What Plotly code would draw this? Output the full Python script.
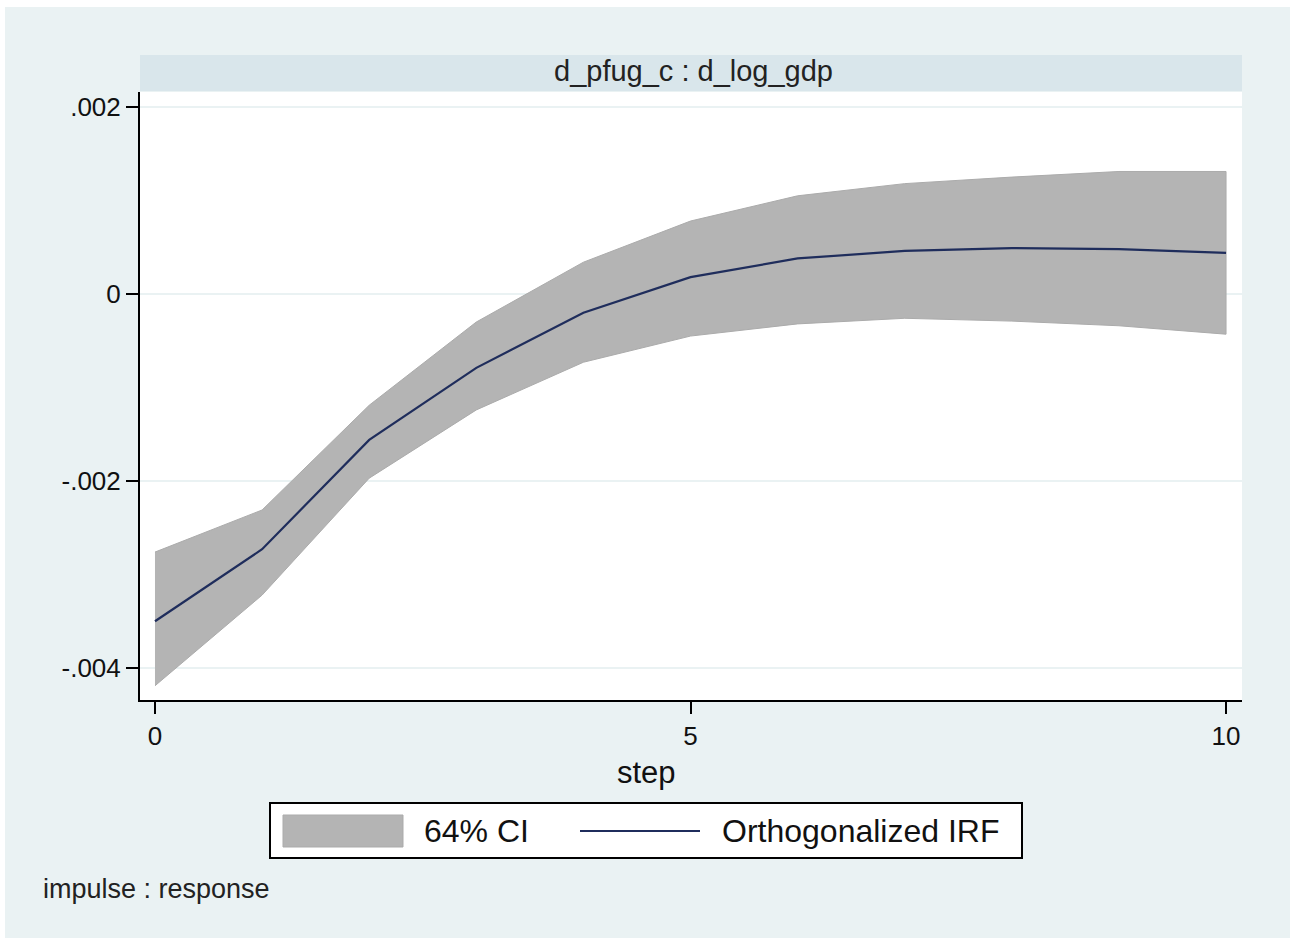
import plotly.graph_objects as go

# Impulse-response of d_log_gdp to a d_pfug_c shock, with 64% confidence band
steps = [0, 1, 2, 3, 4, 5, 6, 7, 8, 9, 10]
oirf = [-0.00350, -0.00273, -0.00156, -0.00079, -0.00020, 0.00018,
        0.00038, 0.00046, 0.00049, 0.00048, 0.00044]
ci_upper = [-0.00276, -0.00231, -0.00119, -0.00030, 0.00034, 0.00078,
            0.00105, 0.00118, 0.00125, 0.00131, 0.00131]
ci_lower = [-0.00419, -0.00322, -0.00197, -0.00124, -0.00073, -0.00045,
            -0.00032, -0.00026, -0.00029, -0.00034, -0.00043]

y_ticks = [-0.004, -0.002, 0, 0.002]
y_ticklabels = ["-.004", "-.002", "0", ".002"]
x_ticks = [0, 5, 10]

panel_title = "d_pfug_c : d_log_gdp"
x_title = "step"
note_text = "impulse : response"
legend_ci = "64% CI"
legend_irf = "Orthogonalized IRF"

W, H = 1290, 938
ML, MR, MT, MB = 140, 48, 92, 238
PW, PH = W - ML - MR, H - MT - MB

BG = "#EAF2F3"
STRIP = "#D9E6EB"
BAND = "#B4B4B4"
LINE = "#1F2D5C"
FONT = "Liberation Sans, Arial, sans-serif"


def px(x):
    return (x - ML) / PW


def py(y):
    return (H - MB - y) / PH


fig = go.Figure()

# confidence band as one closed polygon
fig.add_trace(go.Scatter(
    x=steps + steps[::-1],
    y=ci_upper + ci_lower[::-1],
    fill="toself", fillcolor=BAND,
    line=dict(color="#ABABAB", width=1),
    mode="lines", hoverinfo="skip", showlegend=False,
))
fig.add_trace(go.Scatter(
    x=steps, y=oirf, mode="lines",
    line=dict(color=LINE, width=2.2), showlegend=False,
))

shapes = [
    # thin white frame on the left and top edges
    dict(type="rect", xref="paper", yref="paper", x0=px(0), x1=px(5), y0=py(H), y1=py(0),
         fillcolor="white", line=dict(width=0), layer="below"),
    dict(type="rect", xref="paper", yref="paper", x0=px(0), x1=px(W), y0=py(7), y1=py(0),
         fillcolor="white", line=dict(width=0), layer="below"),
    # panel title strip
    dict(type="rect", xref="paper", yref="paper", x0=0, x1=1, y0=py(91), y1=py(55),
         fillcolor=STRIP, line=dict(width=0), layer="below"),
    # legend frame
    dict(type="rect", xref="paper", yref="paper", x0=px(270), x1=px(1022), y0=py(858), y1=py(803),
         fillcolor="white", line=dict(color="black", width=2)),
    # legend key: band
    dict(type="rect", xref="paper", yref="paper", x0=px(283), x1=px(403), y0=py(847), y1=py(815),
         fillcolor=BAND, line=dict(color="#ABABAB", width=1)),
    # legend key: line
    dict(type="line", xref="paper", yref="paper", x0=px(580), x1=px(700), y0=py(831), y1=py(831),
         line=dict(color=LINE, width=2.2)),
]

annotations = [
    dict(text=panel_title, xref="paper", yref="paper", x=px(693), y=py(71),
         xanchor="center", yanchor="middle", showarrow=False,
         font=dict(family=FONT, size=29, color="#222222")),
    dict(text=x_title, xref="paper", yref="paper", x=px(646), y=py(772),
         xanchor="center", yanchor="middle", showarrow=False,
         font=dict(family=FONT, size=31, color="#111111")),
    dict(text=legend_ci, xref="paper", yref="paper", x=px(422), y=py(831),
         xanchor="left", yanchor="middle", showarrow=False,
         font=dict(family=FONT, size=32, color="#111111")),
    dict(text=legend_irf, xref="paper", yref="paper", x=px(720), y=py(831),
         xanchor="left", yanchor="middle", showarrow=False,
         font=dict(family=FONT, size=32, color="#111111")),
    dict(text=note_text, xref="paper", yref="paper", x=px(41), y=py(889),
         xanchor="left", yanchor="middle", showarrow=False,
         font=dict(family=FONT, size=27, color="#222222")),
]

fig.update_layout(
    width=W, height=H,
    margin=dict(l=ML, r=MR, t=MT, b=MB, pad=0),
    paper_bgcolor=BG, plot_bgcolor="white",
    shapes=shapes, annotations=annotations,
    font=dict(family=FONT, color="#111111"),
    showlegend=False,
)

fig.update_xaxes(
    range=[-0.14, 10.149], tickvals=x_ticks,
    ticks="outside", ticklen=12, tickwidth=2, tickcolor="black",
    showline=True, linecolor="black", linewidth=2,
    showgrid=False, zeroline=False,
    tickfont=dict(family=FONT, size=26, color="#111111"),
)
fig.update_yaxes(
    range=[-0.004342, 0.00216], tickvals=y_ticks, ticktext=y_ticklabels,
    ticks="outside", ticklen=12, tickwidth=2, tickcolor="black",
    showline=True, linecolor="black", linewidth=2,
    showgrid=True, gridcolor=BG, gridwidth=2, zeroline=False,
    tickfont=dict(family=FONT, size=26, color="#111111"),
)

fig.write_html("out.html")
